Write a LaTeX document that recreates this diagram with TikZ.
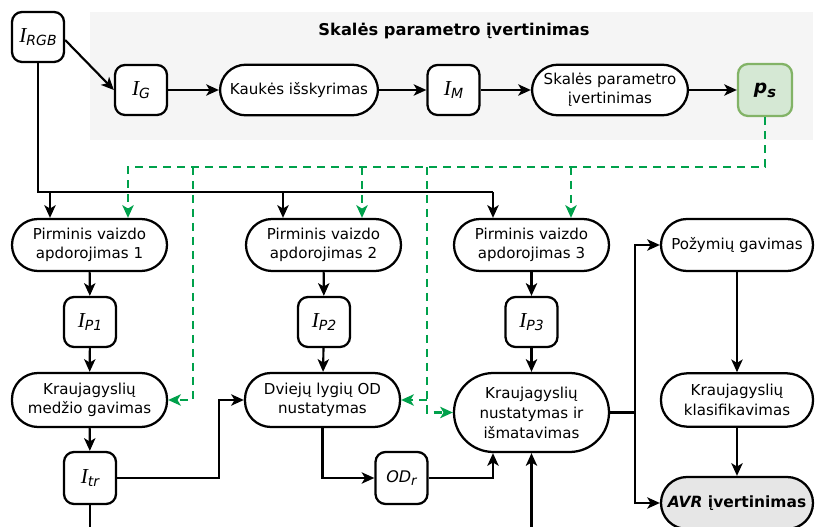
\documentclass[tikz,border=0pt]{standalone}
\usepackage{fontspec}
\setmainfont{DejaVu Sans}
\newfontfamily\serifit{Liberation Serif}
\usetikzlibrary{arrows.meta,calc}
\definecolor{gline}{HTML}{00A14B}
\definecolor{psfill}{HTML}{D5E8D4}
\definecolor{psdraw}{HTML}{82B366}
\definecolor{bgray}{HTML}{F5F5F5}
\definecolor{avrfill}{HTML}{E6E6E6}
\newcommand{\Ivar}[1]{{\serifit\itshape\fontsize{16pt}{16pt}\selectfont I}\raisebox{-0.45ex}{\fontsize{10.5pt}{10.5pt}\selectfont\itshape #1}}
\begin{document}
\begin{tikzpicture}[x=0.75pt,y=-0.75pt,
  every node/.style={font=\fontsize{11.3pt}{14.5pt}\selectfont, align=center, line width=1.7pt, inner sep=0pt},
  vbox/.style={draw, rounded corners=7.5pt, minimum width=39pt, minimum height=37.5pt, fill=white},
  pill/.style={draw, rounded corners=19.5pt, minimum width=116.25pt, minimum height=39pt, fill=white},
  line/.style={draw, line width=1.6pt},
  arr/.style={draw, line width=1.6pt, -{Stealth[length=9.5pt,width=8.5pt,inset=2.5pt]}},
  garr/.style={draw=gline, line width=1.6pt, dash pattern=on 6pt off 4.5pt, -{Stealth[length=9.5pt,width=8.5pt,inset=2.5pt]}}
]
\clip (0,0) rectangle (815,527);
\fill[white] (0,0) rectangle (815,527);
% background panel
\fill[bgray] (90,12) rectangle (813,140);
\node[font=\bfseries\fontsize{12.2pt}{14pt}\selectfont] (title) at (454,31) {Skalės parametro įvertinimas};

% top row
\node[vbox, minimum width=39pt] (rgb) at (38,37) {\Ivar{RGB}};
\node[vbox] (ig) at (141,90) {\Ivar{G}};
\node[pill, minimum width=118.5pt, minimum height=38pt] (mask) at (299,90) {Kaukės išskyrimas};
\node[vbox] (im) at (453.5,90) {\Ivar{M}};
\node[pill, minimum width=117pt, minimum height=38pt] (scale) at (610,90) {Skalės parametro\\įvertinimas};
\node[vbox, draw=psdraw, fill=psfill, minimum width=40.5pt, minimum height=39pt] (ps) at (765,90)
  {\bfseries\itshape\fontsize{14pt}{14pt}\selectfont p\raisebox{-0.4ex}{\fontsize{11pt}{11pt}\selectfont s}};

% second row
\node[pill] (p1) at (89.5,245) {Pirminis vaizdo\\apdorojimas 1};
\node[pill] (p2) at (323.5,245) {Pirminis vaizdo\\apdorojimas 2};
\node[pill] (p3) at (531.5,245) {Pirminis vaizdo\\apdorojimas 3};
\node[pill, minimum width=114pt] (poz) at (737,245) {Požymių gavimas};

\node[vbox] (ip1) at (90,322) {\Ivar{P1}};
\node[vbox] (ip2) at (324,322) {\Ivar{P2}};
\node[vbox] (ip3) at (531.5,322) {\Ivar{P3}};

\node[pill, minimum height=40.5pt] (med) at (89.5,400) {Kraujagyslių\\medžio gavimas};
\node[pill, minimum height=40.5pt] (dv) at (322.5,400) {Dviejų lygių OD\\nustatymas};
\node[pill, minimum height=59.25pt, rounded corners=29.6pt, font=\fontsize{11.3pt}{15pt}\selectfont] (kn) at (531.5,412.5) {Kraujagyslių\\nustatymas ir\\išmatavimas};
\node[pill, minimum width=114pt, minimum height=40pt] (kl) at (737,400) {Kraujagyslių\\klasifikavimas};

\node[vbox, minimum height=39pt] (itr) at (90,478) {\Ivar{tr}};
\node[vbox, minimum height=39pt] (odr) at (401.5,478) {\fontsize{12pt}{12pt}\selectfont\textit{OD}\raisebox{-0.4ex}{\fontsize{10pt}{10pt}\selectfont\itshape r}};
\node[pill, minimum width=114pt, fill=avrfill, font=\bfseries\fontsize{11.6pt}{14pt}\selectfont] (avr) at (737,503) {\textit{AVR} įvertinimas};

% coordinates
\coordinate (busL) at (38,192);
\coordinate (busR) at (493,192);
\coordinate (d1) at (50,192);
\coordinate (d2) at (283,192);
\coordinate (gR) at (765,167);
\coordinate (gL) at (128,167);
\coordinate (g2) at (362,167);
\coordinate (g3) at (571,167);
\coordinate (g4) at (193,167);
\coordinate (g5) at (427,167);
\coordinate (c1) at (219,478);
\coordinate (sp) at (635,412.5);
\coordinate (bot1) at (90,530);
\coordinate (bot2) at (531.5,530);

% top chain
\draw[arr] ($(rgb.east)+(0,3)$) -- (ig.west);
\draw[arr] (ig) -- (mask);
\draw[arr] (mask) -- (im);
\draw[arr] (im) -- (scale);
\draw[arr] (scale) -- (ps);

% black bus
\draw[line] (rgb.south) -- (busL) -- (busR);
\draw[arr] (d1) -- (d1 |- p1.north);
\draw[arr] (d2) -- (d2 |- p2.north);
\draw[arr] (busR) -- (busR |- p3.north);

% green dashed
\draw[garr] (ps.south) |- (gL) -- (gL |- p1.north);
\draw[garr] (g2) -- (g2 |- p2.north);
\draw[garr] (g3) -- (g3 |- p3.north);
\draw[garr] (g4) |- (med.east);
\draw[garr] (g5) |- (kn.west);
\draw[garr] (g5 |- dv.east) -- (dv.east);

% columns
\draw[arr] (p1) -- (ip1);
\draw[arr] (p2) -- (ip2);
\draw[arr] (p3) -- (ip3);
\draw[arr] (ip1) -- (med);
\draw[arr] (ip2) -- (dv);
\draw[arr] (ip3) -- (kn);
\draw[arr] (med) -- (itr);
\draw[line] (itr.south) -- (bot1);
\draw[arr] (itr.east) -- (c1) |- (dv.west);
\draw[arr] (dv.south) |- (odr.west);
\draw[arr] (odr.east) -| ($(kn.south)+(-38.5,0)$);
\draw[arr] (bot2) -- (kn.south);
\draw[line] (kn.east) -- (sp);
\draw[arr] (sp) |- (poz.west);
\draw[arr] (sp) |- (avr.west);
\draw[arr] (poz) -- (kl);
\draw[arr] (kl) -- (avr);
\end{tikzpicture}
\end{document}
